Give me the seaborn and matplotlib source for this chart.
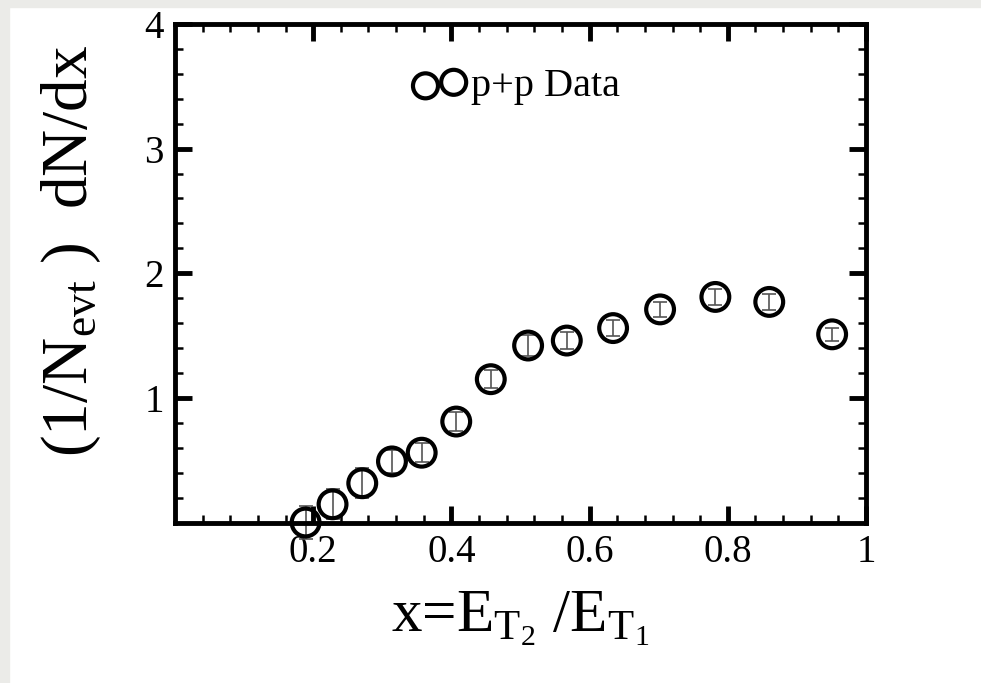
import matplotlib
matplotlib.use("Agg")
import matplotlib.pyplot as plt
import seaborn as sns
import pandas as pd
from matplotlib.ticker import MultipleLocator, FixedLocator

# values
x_vals = [0.189, 0.228, 0.271, 0.314, 0.357, 0.407, 0.457, 0.511, 0.567, 0.634, 0.702, 0.782, 0.860, 0.951]
y_vals = [0.00, 0.146, 0.315, 0.49, 0.56, 0.81, 1.15, 1.42, 1.46, 1.56, 1.71, 1.81, 1.77, 1.51]
y_err = [0.13, 0.12, 0.12, 0.095, 0.075, 0.075, 0.07, 0.088, 0.066, 0.066, 0.06, 0.063, 0.063, 0.05]
x_ticks = [0.2, 0.4, 0.6, 0.8, 1.0]
x_ticklabels = ["0.2", "0.4", "0.6", "0.8", "1"]
y_ticks = [1, 2, 3, 4]
y_ticklabels = ["1", "2", "3", "4"]

df = pd.DataFrame({"x": x_vals, "y": y_vals, "err": y_err})

sns.set_theme(style="ticks")
plt.rcParams["font.family"] = ["Liberation Serif", "DejaVu Serif"]
plt.rcParams["mathtext.fontset"] = "custom"
plt.rcParams["mathtext.rm"] = "Liberation Serif"
plt.rcParams["mathtext.it"] = "Liberation Serif:italic"
plt.rcParams["text.color"] = "black"
plt.rcParams["axes.labelcolor"] = "black"

fig = plt.figure(figsize=(9.81, 6.83), dpi=100)
fig.patch.set_facecolor("white")
# light grey border on left / top like the reference
fig.patches.append(plt.Rectangle((0, 0), 9 / 981, 1, transform=fig.transFigure,
                                 color="#ebebe8", zorder=0))
fig.patches.append(plt.Rectangle((0, 1 - 7 / 683), 1, 7 / 683, transform=fig.transFigure,
                                 color="#ebebe8", zorder=0))

ax = fig.add_axes([175 / 981, 1 - 522.5 / 683, (866 - 175) / 981, (522.5 - 24) / 683])

ax.errorbar(df["x"], df["y"], yerr=df["err"], fmt="none", ecolor="#555555",
            elinewidth=1.2, capsize=5, capthick=1.2, zorder=2, clip_on=False)
sns.scatterplot(data=df, x="x", y="y", ax=ax, marker="o", s=400,
                facecolor="none", edgecolor="black", linewidth=3.0,
                label="p+p Data", zorder=3, clip_on=False)

ax.set_xlim(0, 1)
ax.set_ylim(0, 4)
ax.xaxis.set_major_locator(FixedLocator(x_ticks))
ax.set_xticklabels(x_ticklabels)
ax.xaxis.set_minor_locator(MultipleLocator(0.04))
ax.yaxis.set_major_locator(FixedLocator(y_ticks))
ax.set_yticklabels(y_ticklabels)
ax.yaxis.set_minor_locator(MultipleLocator(0.2))

ax.tick_params(which="both", direction="in", top=True, right=True,
               colors="black", labelcolor="black")
ax.tick_params(which="major", length=12, width=3.5, labelsize=28, pad=8)
ax.tick_params(which="minor", length=6, width=1.8)
for sp in ax.spines.values():
    sp.set_linewidth(3.5)
    sp.set_color("black")

ax.set_xlabel(r"x=E$_{\mathrm{T_2}}$ /E$_{\mathrm{T_1}}$", fontsize=44, labelpad=14)
ax.set_ylabel(r"(1/N$_{\mathrm{evt}}$ )  dN/dx", fontsize=47)
ax.yaxis.set_label_coords(-0.104, 0.545)

leg = ax.legend(loc="center left", bbox_to_anchor=(0.345, 0.874), frameon=False,
                scatterpoints=2, fontsize=29, handletextpad=0.12,
                handlelength=1.3, markerscale=0.9, borderaxespad=0, borderpad=0)
for t in leg.get_texts():
    t.set_color("black")

fig.savefig("out.png", dpi=100, facecolor=fig.get_facecolor())
